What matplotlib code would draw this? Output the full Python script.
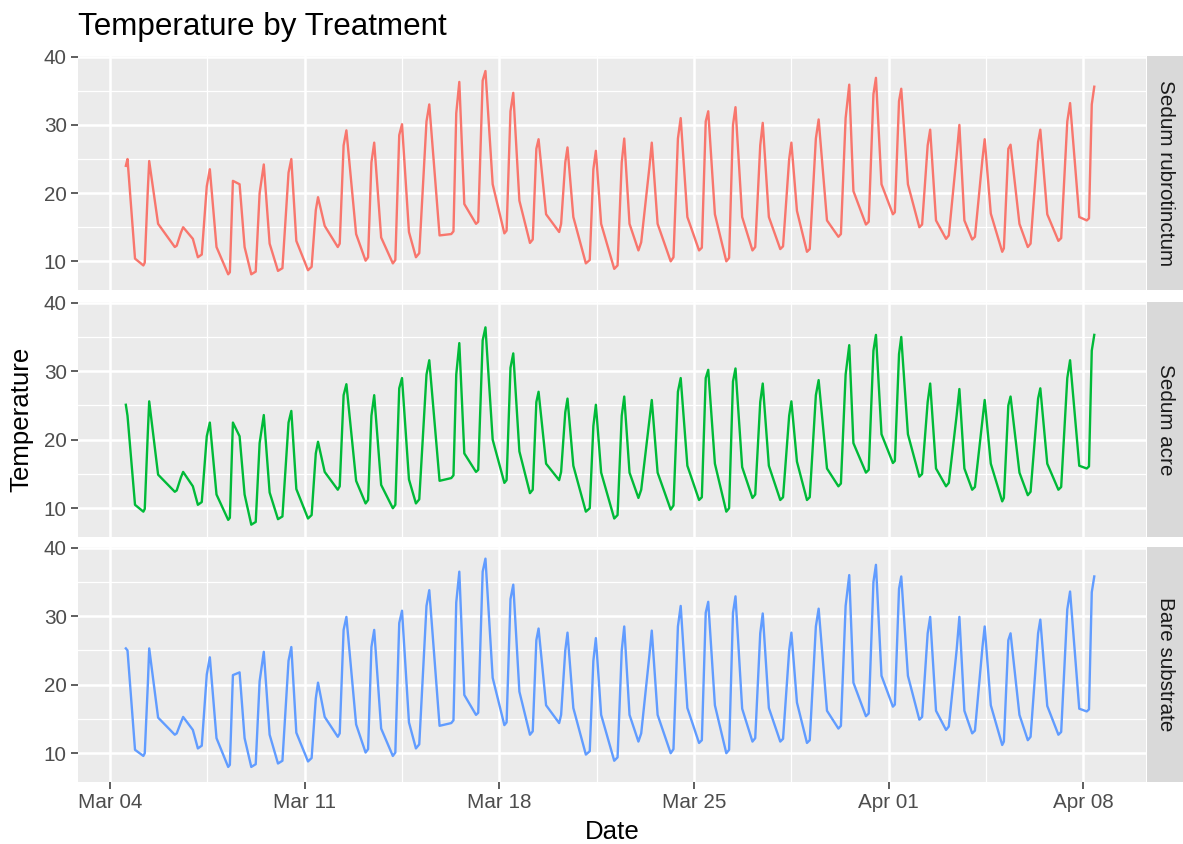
import matplotlib
matplotlib.use("Agg")
import matplotlib.pyplot as plt
import matplotlib.dates as mdates
import pandas as pd

plt.rcParams['font.family'] = ['Liberation Sans', 'DejaVu Sans']

START = pd.Timestamp("2018-03-04")
TREATMENTS = ["Sedum rubrotinctum", "Sedum acre", "Bare substrate"]
COLORS = ["#F8766D", "#00BA38", "#619CFF"]

# times in days after Mar 04 00:00
# daily low (first entry = start of record), afternoon peak, evening knee
MIN_T = [0.57, 1.2, 2.33, 3.16, 4.25, 5.08, 6.04, 7.12, 8.19, 9.19, 10.17, 11.0,
         12.27, 13.16, 14.18, 15.1, 16.15, 17.11, 18.13, 19.0, 20.16, 21.18,
         22.16, 23.1, 24.1, 25.06, 26.19, 27.18, 28.15, 29.1, 30.06, 31.0,
         32.08, 33.0, 34.1, 35.12]
PEAK_T = [0.63, 1.41, 2.63, 3.59, 4.66, 5.53, 6.52, 7.48, 8.5, 9.5, 10.5, 11.48,
          12.56, 13.5, 14.5, 15.41, 16.45, 17.47, 18.49, 19.48, 20.52, 21.51,
          22.49, 23.47, 24.5, 25.48, 26.58, 27.54, 28.45, 29.49, 30.54, 31.45,
          32.38, 33.45, 34.52, 35.39]
EVE_T = [0.9, 1.73, 2.98, 3.83, 4.84, 5.74, 6.7, 7.72, 8.85, 9.75, 10.75, 11.85,
         12.74, 13.76, 14.72, 15.68, 16.66, 17.66, 18.68, 19.69, 20.76, 21.75,
         22.73, 23.69, 24.7, 25.78, 26.73, 27.74, 28.69, 29.7, 30.72, 31.67,
         32.7, 33.7, 34.85]
# start of the morning rise and shoulder before the peak (days 1..35)
DAWN_T = [1.25, 2.4, 3.3, 4.31, 5.24, 6.2, 7.25, 8.26, 9.28, 10.26, 11.12, 12.35,
          13.24, 14.26, 15.2, 16.22, 17.25, 18.25, 19.1, 20.26, 21.28, 22.26,
          23.2, 24.2, 25.16, 26.28, 27.28, 28.22, 29.2, 30.16, 31.1, 32.14,
          33.1, 34.2, 35.2]
PRE_T = [1.36, 2.55, 3.48, 4.42, 5.38, 6.42, 7.4, 8.4, 9.4, 10.4, 11.38, 12.45,
         13.4, 14.4, 15.33, 16.37, 17.38, 18.4, 19.4, 20.42, 21.42, 22.4, 23.38,
         24.42, 25.38, 26.45, 27.45, 28.37, 29.4, 30.44, 31.37, 32.3, 33.37,
         34.42, 35.3]

RUBRO_MIN = [24.0, 9.4, 12.1, 10.6, 8.1, 8.1, 8.6, 8.7, 12.1, 10.1, 9.7, 10.6,
             14.0, 15.5, 14.1, 12.7, 14.3, 9.7, 8.9, 11.6, 10.0, 11.6, 10.0, 11.6,
             11.8, 11.4, 13.6, 15.4, 16.9, 15.0, 13.3, 13.2, 11.4, 12.1, 13.0, 16.0]
RUBRO_DAWN = [9.8, 12.3, 11.0, 8.4, 8.5, 9.0, 9.2, 12.6, 10.6, 10.2, 11.2, 14.4,
              15.8, 14.5, 13.2, 15.5, 10.2, 9.4, 12.8, 10.6, 12.0, 10.5, 12.1, 12.2,
              11.8, 14.0, 15.8, 17.2, 15.4, 13.8, 13.6, 11.9, 12.6, 13.4, 16.3]
RUBRO_PRE = [20.5, 14.2, 21.0, 21.8, 20.0, 23.0, 17.5, 27.0, 24.5, 28.5, 30.5, 31.7,
             36.5, 32.0, 26.5, 24.5, 23.5, 24.5, 24.0, 28.0, 30.5, 30.0, 27.0, 25.0,
             28.0, 31.0, 34.5, 33.5, 27.0, 25.5, 25.0, 26.5, 27.5, 30.5, 33.0]
RUBRO_PEAK = [25.0, 24.7, 15.0, 23.5, 21.3, 24.2, 25.0, 19.4, 29.2, 27.4, 30.1, 33.0,
              36.3, 37.9, 34.7, 27.9, 26.7, 26.2, 28.0, 27.4, 31.0, 32.0, 32.6, 30.3,
              27.4, 30.8, 35.9, 36.9, 35.3, 29.3, 30.0, 27.9, 27.1, 29.3, 33.2, 35.6]
RUBRO_EVE = [10.4, 15.5, 13.3, 12.1, 12.1, 12.6, 13.0, 15.2, 14.0, 13.5, 14.3, 13.8,
             18.4, 21.3, 18.9, 16.9, 16.5, 15.5, 15.5, 15.5, 16.5, 16.9, 16.5, 16.5,
             17.4, 16.0, 20.3, 21.3, 21.3, 16.0, 16.0, 17.0, 15.5, 16.9, 16.5]

ACRE_MIN = [25.1, 9.5, 12.4, 10.5, 8.3, 7.6, 8.4, 8.5, 12.7, 10.7, 10.0, 10.7,
            14.4, 15.3, 13.7, 12.2, 14.1, 9.5, 8.5, 11.5, 9.8, 11.2, 9.5, 11.5,
            11.2, 11.2, 13.2, 15.2, 16.6, 14.6, 13.2, 12.7, 11.0, 11.9, 12.7, 15.8]
ACRE_DAWN = [9.9, 12.6, 10.9, 8.6, 8.0, 8.8, 9.0, 13.2, 11.2, 10.5, 11.3, 14.8,
             15.6, 14.1, 12.7, 15.3, 10.0, 9.0, 12.7, 10.4, 11.6, 10.0, 12.0, 11.6,
             11.6, 13.6, 15.6, 16.9, 15.0, 13.7, 13.1, 11.5, 12.4, 13.1, 16.1]
ACRE_PRE = [21.0, 14.5, 20.5, 22.5, 19.5, 22.5, 18.0, 26.5, 23.5, 27.5, 29.5, 29.5,
            34.5, 30.5, 25.5, 24.0, 22.0, 23.5, 23.0, 27.0, 29.0, 28.5, 25.5, 23.5,
            26.5, 29.5, 33.0, 32.5, 25.5, 23.5, 23.0, 25.0, 26.0, 29.0, 33.0]
ACRE_PEAK = [23.5, 25.6, 15.3, 22.5, 20.5, 23.6, 24.2, 19.7, 28.1, 26.5, 29.0, 31.6,
             34.1, 36.4, 32.6, 27.0, 26.0, 25.1, 26.3, 25.8, 29.0, 30.2, 30.4, 28.2,
             25.6, 28.7, 33.8, 35.3, 35.0, 28.2, 27.4, 25.8, 26.3, 27.5, 31.6, 35.3]
ACRE_EVE = [10.5, 14.9, 13.2, 12.0, 12.0, 12.3, 12.8, 15.3, 14.0, 13.4, 14.2, 14.0,
            18.0, 20.0, 18.3, 16.5, 16.2, 15.2, 15.2, 15.2, 16.2, 16.5, 16.0, 16.2,
            16.8, 15.8, 19.5, 20.8, 20.8, 15.8, 15.8, 16.5, 15.2, 16.5, 16.2]

BARE_MIN = [25.3, 9.6, 12.7, 10.7, 8.0, 8.0, 8.5, 8.8, 12.4, 10.1, 9.6, 10.7,
            14.4, 15.6, 14.1, 12.7, 14.4, 9.8, 8.9, 11.7, 10.0, 11.5, 10.0, 11.7,
            11.7, 11.5, 13.6, 15.4, 16.8, 14.9, 13.4, 12.9, 11.2, 11.9, 12.7, 16.1]
BARE_DAWN = [10.0, 12.9, 11.1, 8.3, 8.4, 8.9, 9.3, 12.9, 10.6, 10.1, 11.3, 14.8,
             15.9, 14.5, 13.2, 15.6, 10.3, 9.4, 12.9, 10.6, 11.9, 10.5, 12.2, 12.1,
             11.9, 14.0, 15.8, 17.1, 15.3, 13.9, 13.3, 11.7, 12.4, 13.1, 16.4]
BARE_PRE = [20.0, 14.5, 21.5, 21.4, 20.5, 23.5, 18.0, 28.0, 25.5, 29.0, 31.5, 32.0,
            36.5, 32.5, 26.5, 25.0, 23.5, 25.0, 24.5, 28.5, 30.5, 30.5, 27.5, 25.0,
            28.5, 31.5, 35.0, 34.0, 27.5, 25.0, 25.5, 26.5, 27.5, 31.0, 33.5]
BARE_PEAK = [25.0, 25.3, 15.3, 24.0, 21.8, 24.8, 25.5, 20.3, 29.9, 28.0, 30.8, 33.8,
             36.5, 38.4, 34.6, 28.2, 27.6, 26.8, 28.5, 27.9, 31.5, 32.1, 32.9, 30.4,
             27.6, 31.1, 36.0, 37.5, 35.8, 29.9, 29.9, 28.5, 27.5, 29.5, 33.6, 35.8]
BARE_EVE = [10.5, 15.2, 13.4, 12.2, 12.2, 12.7, 13.0, 15.3, 14.2, 13.6, 14.5, 14.0,
            18.5, 21.0, 19.0, 17.0, 16.6, 15.6, 15.6, 15.6, 16.6, 17.0, 16.5, 16.6,
            17.4, 16.2, 20.3, 21.3, 21.3, 16.2, 16.2, 17.0, 15.6, 16.9, 16.5]

SERIES = [(RUBRO_MIN, RUBRO_DAWN, RUBRO_PRE, RUBRO_PEAK, RUBRO_EVE),
          (ACRE_MIN, ACRE_DAWN, ACRE_PRE, ACRE_PEAK, ACRE_EVE),
          (BARE_MIN, BARE_DAWN, BARE_PRE, BARE_PEAK, BARE_EVE)]

Y_TICKS = [10, 20, 30, 40]
Y_MINOR = [15, 25, 35]
X_TICKS = ["2018-03-04", "2018-03-11", "2018-03-18", "2018-03-25", "2018-04-01", "2018-04-08"]


def build_series(mins, dawns, pres, peaks, eves):
    t, v = [], []
    for i in range(len(MIN_T)):
        t.append(MIN_T[i]); v.append(mins[i])
        if i >= 1:
            t.append(DAWN_T[i - 1]); v.append(dawns[i - 1])
            t.append(PRE_T[i - 1]); v.append(pres[i - 1])
        t.append(PEAK_T[i]); v.append(peaks[i])
        if i < len(EVE_T):
            t.append(EVE_T[i]); v.append(eves[i])
    dates = START + pd.to_timedelta(t, unit="D")
    return dates, v


W, H = 1183, 844
fig = plt.figure(figsize=(W / 100, H / 100), dpi=100)

left, right = 78, 1146
strip_l, strip_r = 1147, 1183
panels_px = [(56, 290), (302, 537), (547, 782)]

major_x = pd.to_datetime(X_TICKS)
minor_x = [major_x[i] + (major_x[i + 1] - major_x[i]) / 2 for i in range(len(major_x) - 1)]
xlim = (START + pd.Timedelta(days=-1.15), START + pd.Timedelta(days=37.25))

for k, (top, bot) in enumerate(panels_px):
    ax = fig.add_axes([left / W, 1 - bot / H, (right - left) / W, (bot - top) / H])
    ax.set_facecolor("#EBEBEB")
    for s in ax.spines.values():
        s.set_visible(False)

    dates, vals = build_series(*SERIES[k])
    ax.plot(dates, vals, color=COLORS[k], lw=1.7, zorder=3)

    ax.set_xlim(*xlim)
    ax.set_ylim(5.8, 40.1)
    ax.set_yticks(Y_TICKS)
    ax.set_yticks(Y_MINOR, minor=True)
    ax.set_xticks(major_x)
    ax.set_xticks(minor_x, minor=True)
    ax.xaxis.set_major_formatter(mdates.DateFormatter("%b %d"))
    ax.grid(which="major", color="white", lw=1.8, zorder=1)
    ax.grid(which="minor", color="white", lw=0.9, zorder=1)
    ax.set_axisbelow(True)
    ax.tick_params(which="major", length=4.7, width=1.1, color="#333333",
                   labelsize=14.9, labelcolor="#4D4D4D", pad=3.5)
    ax.tick_params(which="minor", length=0)
    if k < 2:
        ax.tick_params(axis="x", which="major", length=0, labelbottom=False)

    sax = fig.add_axes([strip_l / W, 1 - bot / H, (strip_r - strip_l) / W, (bot - top) / H])
    sax.set_facecolor("#D9D9D9")
    sax.set_xticks([])
    sax.set_yticks([])
    for s in sax.spines.values():
        s.set_visible(False)
    sax.text(0.5, 0.5, TREATMENTS[k], rotation=-90, ha="center", va="center",
             fontsize=14.9, color="#1A1A1A", transform=sax.transAxes)

fig.text(left / W, 1 - 35 / H, "Temperature by Treatment", fontsize=22.6,
         ha="left", va="baseline", color="black")
fig.text((left + right) / 2 / W, 1 - 839 / H, "Date", fontsize=18.6,
         ha="center", va="baseline", color="black")
fig.text(9 / W, 1 - 419 / H, "Temperature", fontsize=18.6, rotation=90,
         ha="left", va="center", color="black")

fig.savefig("out.png", dpi=100)
